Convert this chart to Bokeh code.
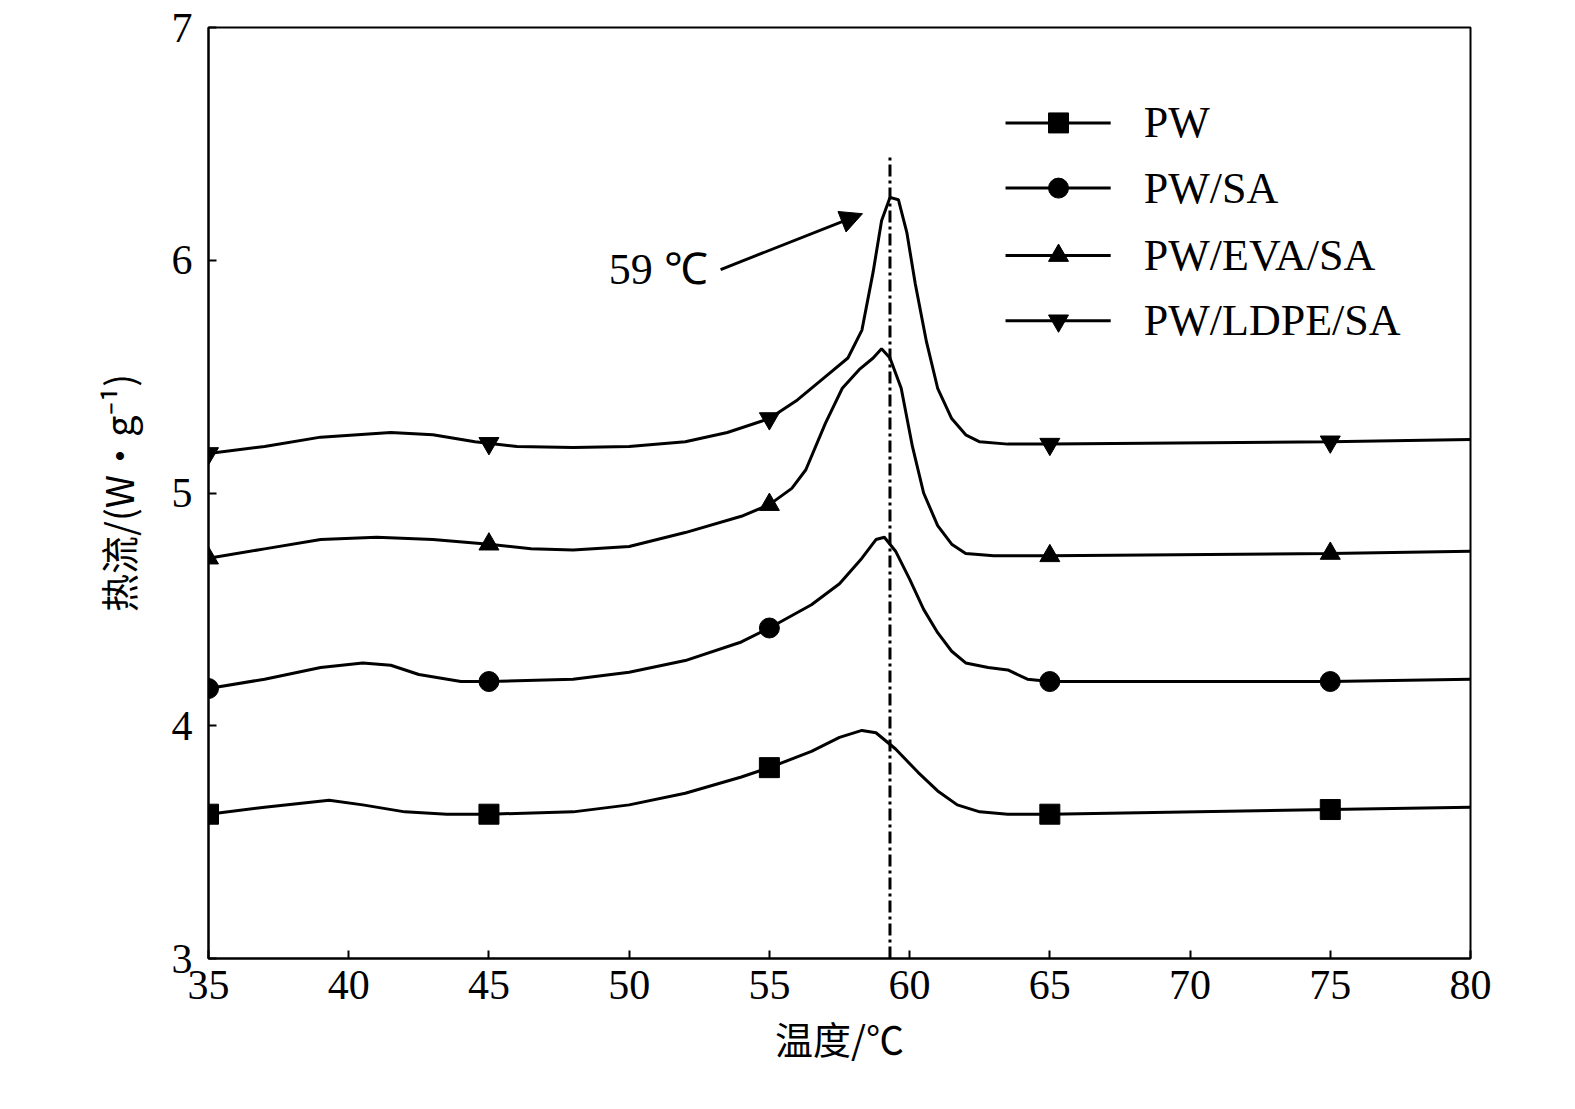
import numpy as np
from bokeh.plotting import figure
from bokeh.models import Arrow, NormalHead, Label, Range1d
from bokeh.embed import file_html
from bokeh.resources import INLINE

names = ["PW", "PW/SA", "PW/EVA/SA", "PW/LDPE/SA"]
markers = ["square", "circle", "triangle", "inverted_triangle"]
pw_x = [35, 37, 39.3, 40.5, 42, 43.5, 45, 48, 50, 52, 54, 55, 56.5, 57.5, 58.3, 58.8, 59.5, 60.3, 61, 61.7, 62.5, 63.5, 65, 75, 80]
pw_y = [3.62, 3.65, 3.68, 3.66, 3.63, 3.62, 3.62, 3.63, 3.66, 3.71, 3.78, 3.82, 3.89, 3.95, 3.98, 3.97, 3.90, 3.80, 3.72, 3.66, 3.63, 3.62, 3.62, 3.64, 3.65]
sa_x = [35, 37, 39, 40.5, 41.5, 42.5, 44, 45, 48, 50, 52, 54, 55, 56.5, 57.5, 58.3, 58.8, 59.1, 59.5, 60, 60.5, 61, 61.5, 62, 62.8, 63.5, 64.2, 65, 75, 80]
sa_y = [4.16, 4.20, 4.25, 4.27, 4.26, 4.22, 4.19, 4.19, 4.20, 4.23, 4.28, 4.36, 4.42, 4.52, 4.61, 4.72, 4.80, 4.81, 4.75, 4.63, 4.50, 4.40, 4.32, 4.27, 4.25, 4.24, 4.20, 4.19, 4.19, 4.20]
eva_x = [35, 37, 39, 41, 43, 45, 46.5, 48, 50, 52, 54, 55, 55.8, 56.3, 57, 57.6, 58.2, 58.7, 59, 59.3, 59.7, 60.1, 60.5, 61, 61.5, 62, 63, 65, 75, 80]
eva_y = [4.72, 4.76, 4.80, 4.81, 4.80, 4.78, 4.76, 4.755, 4.77, 4.83, 4.90, 4.95, 5.02, 5.10, 5.30, 5.45, 5.53, 5.58, 5.62, 5.58, 5.45, 5.20, 5.00, 4.86, 4.78, 4.74, 4.73, 4.73, 4.74, 4.75]
ldpe_x = [35, 37, 39, 41.5, 43, 44.5, 46, 48, 50, 52, 53.5, 55, 56, 57, 57.8, 58.3, 58.7, 59.0, 59.3, 59.6, 59.9, 60.2, 60.6, 61, 61.5, 62, 62.5, 63.5, 65, 75, 80]
ldpe_y = [5.17, 5.20, 5.24, 5.26, 5.25, 5.22, 5.20, 5.195, 5.20, 5.22, 5.26, 5.32, 5.40, 5.50, 5.58, 5.70, 5.95, 6.17, 6.27, 6.26, 6.12, 5.90, 5.65, 5.45, 5.32, 5.25, 5.22, 5.21, 5.21, 5.22, 5.23]
marker_x = [35, 45, 55, 65, 75]
series = [(pw_x, pw_y), (sa_x, sa_y), (eva_x, eva_y), (ldpe_x, ldpe_y)]
peak_x = 59.3
legend_y = [6.59, 6.31, 6.02, 5.74]

p = figure(width=1560, height=1095, output_backend="svg", toolbar_location=None,
           x_range=Range1d(35, 80), y_range=Range1d(3, 7),
           min_border_left=208, min_border_right=90, min_border_top=27, min_border_bottom=137)
p.xgrid.visible = False
p.ygrid.visible = False
p.outline_line_color = "black"
p.outline_line_width = 2
for ax in (p.xaxis[0], p.yaxis[0]):
    ax.major_tick_in = 8
    ax.major_tick_out = 0
    ax.minor_tick_line_color = None
    ax.axis_line_width = 2
    ax.major_tick_line_width = 2
    ax.major_label_text_font = "Liberation Serif"
    ax.major_label_text_font_size = "42px"
    ax.major_label_text_color = "black"
    ax.axis_label_text_font = "Noto Sans CJK SC"
    ax.axis_label_text_font_size = "38px"
    ax.axis_label_text_font_style = "normal"
    ax.axis_label_text_color = "black"
p.xaxis.ticker = list(range(35, 81, 5))
p.yaxis.ticker = [3, 4, 5, 6, 7]
p.yaxis.major_label_standoff = 16
p.xaxis.major_label_standoff = 12
p.xaxis.axis_label = "温度/℃"
p.yaxis.axis_label = "热流/(W·g⁻¹)"
p.xaxis.axis_label_standoff = 8
p.yaxis.axis_label_standoff = 24

for (xs, ys), m, n, ly in zip(series, markers, names, legend_y):
    p.line(xs, ys, line_color="black", line_width=3)
    my = np.interp(marker_x, xs, ys)
    p.scatter(marker_x, my, marker=m, size=20, color="black")
    p.line([63.42, 67.17], [ly, ly], line_color="black", line_width=3)
    p.scatter([65.31], [ly], marker=m, size=20, color="black")
    p.text([68.35], [ly], text=[n], text_font_size="44px", text_baseline="middle",
           text_font={"value": "Liberation Serif"}, text_color="black")

p.segment([peak_x], [3], [peak_x], [6.45], line_color="black", line_width=3, line_dash="12 4 3 4")
p.add_layout(Arrow(end=NormalHead(size=22, fill_color="black", line_color="black"),
                   x_start=53.26, y_start=5.96, x_end=58.32, y_end=6.20, line_width=3))
p.add_layout(Label(x=52.8, y=5.96, text="59 ℃", text_align="right", text_baseline="middle",
                   text_font="Liberation Serif", text_font_size="44px", text_color="black"))

open("out.html", "w").write(file_html(p, INLINE))
